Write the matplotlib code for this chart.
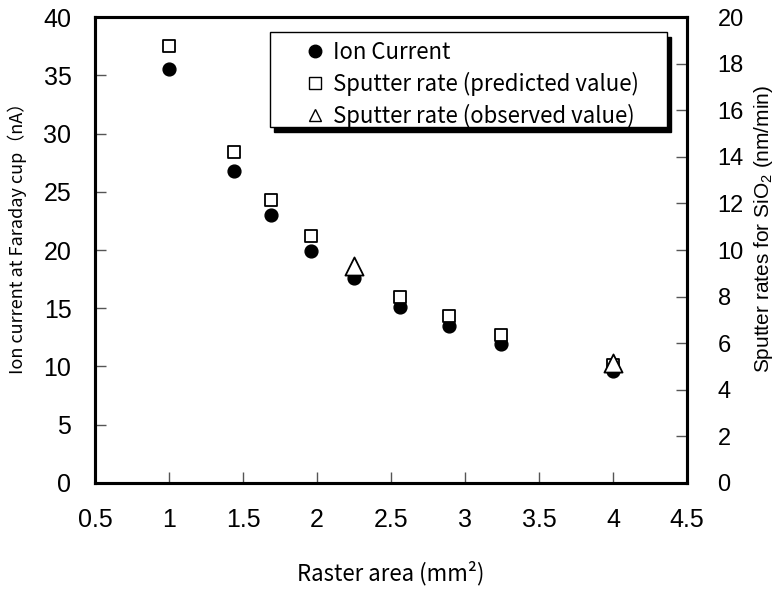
import matplotlib
matplotlib.use('Agg')
import matplotlib.pyplot as plt
from matplotlib.patches import Rectangle
from matplotlib.lines import Line2D

# Raster area (mm^2)
raster_area = [1.0, 1.44, 1.69, 1.96, 2.25, 2.56, 2.89, 3.24, 4.0]
# Ion current at Faraday cup (nA)
ion_current = [35.5, 26.8, 23.0, 19.9, 17.6, 15.1, 13.5, 11.9, 9.6]
# Predicted sputter rate (nm/min), none at 2.25
rate_predicted = [18.75, 14.2, 12.15, 10.6, None, 8.0, 7.15, 6.35, 5.05]
# Observed sputter rate (nm/min)
area_observed = [2.25, 4.0]
rate_observed = [9.3, 5.15]

pred_x = [a for a, r in zip(raster_area, rate_predicted) if r is not None]
pred_y = [r for r in rate_predicted if r is not None]

jp = ['Noto Sans CJK JP', 'DejaVu Sans']
plt.rcParams['font.family'] = ['Liberation Sans', 'DejaVu Sans']
plt.rcParams['mathtext.fontset'] = 'custom'
plt.rcParams['mathtext.rm'] = 'Liberation Sans'

fig = plt.figure(figsize=(7.8, 5.89), dpi=100)
ax = fig.add_axes([0.1218, 0.18, 0.759, 0.7911])
ax2 = ax.twinx()

ax.scatter(raster_area, ion_current, s=85, marker='o', color='black', zorder=3)
ax2.scatter(pred_x, pred_y, s=80, marker='s', facecolor='white', edgecolor='black', linewidth=1.3, zorder=2)
ax2.scatter(area_observed, rate_observed, s=170, marker='^', facecolor='white', edgecolor='black', linewidth=1.3, zorder=4)

ax.set_xlim(0.5, 4.5)
ax.set_ylim(0, 40)
ax2.set_ylim(0, 20)
ax.set_xticks([0.5, 1, 1.5, 2, 2.5, 3, 3.5, 4, 4.5])
ax.set_xticklabels(['0.5', '1', '1.5', '2', '2.5', '3', '3.5', '4', '4.5'])
ax.set_yticks(range(0, 41, 5))
ax2.set_yticks(range(0, 21, 2))

for a in (ax, ax2):
    for s in a.spines.values():
        s.set_linewidth(2.2)
        s.set_color('black')
ax.tick_params(axis='both', direction='in', length=8, width=1, color='#555555', labelsize=18, top=False)
ax.tick_params(axis='y', pad=17)
ax.tick_params(axis='x', pad=18)
ax2.tick_params(axis='y', direction='in', length=8, width=1, color='#555555', labelsize=17, pad=22)

ax.set_xlabel('Raster area (mm²)', family=jp, fontsize=16, labelpad=21)
ax.set_ylabel('Ion current at Faraday cup（nA）', family=jp, fontsize=13, labelpad=6)
ax.yaxis.set_label_coords(-0.115, 0.535)
ax2.set_ylabel(r'Sputter rates for SiO$_\mathregular{2}$ (nm/min)', fontsize=15, labelpad=12)
ax2.yaxis.set_label_coords(1.11, 0.545)

# legend with a solid black drop shadow
lx0, ly0, lw, lh = 0.296, 0.764, 0.67, 0.204
ax2.add_patch(Rectangle((lx0 + 0.007, ly0 - 0.01), lw, lh, transform=ax2.transAxes,
                        facecolor='black', edgecolor='black', zorder=5, clip_on=False))
ax2.add_patch(Rectangle((lx0, ly0), lw, lh, transform=ax2.transAxes,
                        facecolor='white', edgecolor='black', linewidth=1, zorder=6, clip_on=False))
handles = [
    Line2D([], [], marker='o', linestyle='none', color='black', markersize=9),
    Line2D([], [], marker='s', linestyle='none', markerfacecolor='white', markeredgecolor='black', markersize=8),
    Line2D([], [], marker='^', linestyle='none', markerfacecolor='white', markeredgecolor='black', markersize=8),
]
labels = ['Ion Current', 'Sputter rate (predicted value)', 'Sputter rate (observed value)']
leg = ax2.legend(handles, labels, loc='upper left', bbox_to_anchor=(lx0 + 0.055, 0.958),
                 frameon=False, prop={'family': jp, 'size': 16}, handlelength=0.7,
                 handletextpad=0.45, labelspacing=0.36, borderaxespad=0, borderpad=0.2)
leg.set_zorder(7)

fig.savefig('out.png', dpi=100)
